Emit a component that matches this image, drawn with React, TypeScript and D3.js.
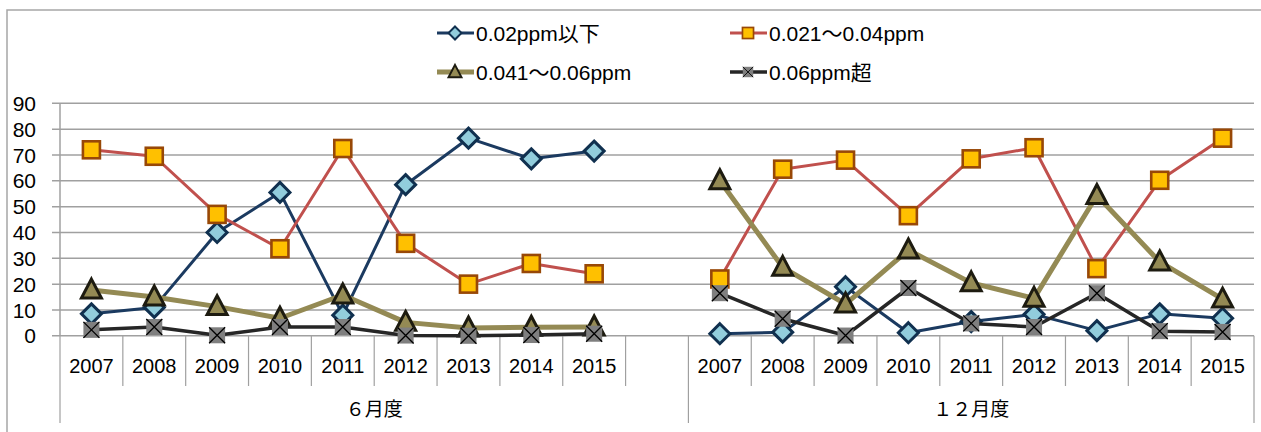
import React from "react";
import * as d3 from "d3";

const years = ["2007", "2008", "2009", "2010", "2011", "2012", "2013", "2014", "2015"];
const groups = ["６月度", "１２月度"];
const yTicks = [0, 10, 20, 30, 40, 50, 60, 70, 80, 90];
const seriesNames = ["0.02ppm以下", "0.021〜0.04ppm", "0.041〜0.06ppm", "0.06ppm超"];

// values per series: [6月度 (2007..2015), 12月度 (2007..2015)]
const s1June = [8.5, 11, 40, 55.5, 8, 58.5, 76.5, 68.5, 71.5];
const s1Dec = [0.8, 1.4, 19, 1.2, 5.5, 8.3, 2, 8.5, 6.8];
const s2June = [72, 69.5, 47, 33.7, 72.5, 35.8, 20, 28, 24];
const s2Dec = [22, 64.5, 68, 46.5, 68.5, 72.8, 26, 60.2, 76.5];
const s3June = [17.7, 15, 11.3, 6.8, 15.8, 5.2, 3, 3.3, 3.4];
const s3Dec = [60, 26.5, 12.3, 33.2, 20.5, 14.5, 54.3, 28.6, 14.2];
const s4June = [2.3, 3.4, 0.2, 3.4, 3.4, 0.1, 0, 0.3, 0.8];
const s4Dec = [16.5, 6.6, 0.1, 18.5, 4.8, 3.4, 16.5, 1.8, 1.5];

const seriesData = [
  [s1June, s1Dec],
  [s2June, s2Dec],
  [s3June, s3Dec],
  [s4June, s4Dec],
];

const FONT = "'Liberation Sans', 'Noto Sans CJK JP', sans-serif";
const CJK = "'Noto Sans CJK JP', sans-serif";

const styles = [
  { line: "#1B3A60", lw: 3, fill: "#92CDDC", stroke: "#10304F", marker: "diamond" },
  { line: "#C0504D", lw: 3, fill: "#FFC000", stroke: "#984807", marker: "square" },
  { line: "#948A54", lw: 5, fill: "#948A54", stroke: "#1D1B10", marker: "triangle" },
  { line: "#262626", lw: 3.5, fill: "#7F7F7F", stroke: "#111", marker: "xsq" },
];

function Marker({ kind, x, y, s, st }: any) {
  if (kind === "diamond") {
    const r = 10 * s;
    return (
      <path d={`M${x},${y - r}L${x + r},${y}L${x},${y + r}L${x - r},${y}Z`} fill={st.fill} stroke={st.stroke} strokeWidth={3 * s} strokeLinejoin="miter" />
    );
  }
  if (kind === "square") {
    const h = 8.5 * s;
    return <rect x={x - h} y={y - h} width={2 * h} height={2 * h} fill={st.fill} stroke={st.stroke} strokeWidth={2.6 * s} />;
  }
  if (kind === "triangle") {
    const w = 10 * s;
    const hTop = 11 * s;
    const hBot = 8 * s;
    return (
      <path d={`M${x},${y - hTop}L${x + w},${y + hBot}L${x - w},${y + hBot}Z`} fill={st.fill} stroke={st.stroke} strokeWidth={3 * s} strokeLinejoin="miter" />
    );
  }
  const h = 8 * s;
  return (
    <g>
      <rect x={x - h} y={y - h} width={2 * h} height={2 * h} fill={st.fill} />
      <path d={`M${x - h},${y - h}L${x + h},${y + h}M${x + h},${y - h}L${x - h},${y + h}`} stroke="#000" strokeWidth={1.3 * s} />
    </g>
  );
}

export default function App() {
  const W = 1261;
  const H = 432;
  const slots: string[] = [];
  groups.forEach((g, gi) => {
    years.forEach((y) => slots.push(`${g}-${y}`));
    if (gi === 0) slots.push(`${g}-blank`);
  });
  const x = d3.scaleBand<string>().domain(slots).range([60, 1254]).paddingInner(0).paddingOuter(0);
  const yS = d3.scaleLinear().domain([0, 90]).range([335.8, 103.3]);
  const bw = x.bandwidth();
  const cx = (g: string, yr: string) => (x(`${g}-${yr}`) as number) + bw / 2;
  const line = d3.line<[number, number]>().x((d) => d[0]).y((d) => d[1]);

  const axisY = yS(0);
  const boundaries = slots.map((s) => x(s) as number).concat([1254]);
  const groupStarts = [60, x(`${groups[1]}-2007`) as number, 1254];

  const legendItems = [
    { i: 0, lx: 437, ly: 33 },
    { i: 1, lx: 730, ly: 33 },
    { i: 2, lx: 437, ly: 72 },
    { i: 3, lx: 730, ly: 72 },
  ];

  return (
    <svg width={W} height={H} style={{ display: "block", position: "absolute", left: 0, top: 0 }} fontFamily={FONT}>
      <rect x={0} y={0} width={W} height={H} fill="#fff" />
      {/* outer frame */}
      <path d={`M7,${H}L7,10L${W},10`} fill="none" stroke="#A6A6A6" strokeWidth={1.5} />
      {/* gridlines */}
      {yTicks.map((t) => (
        <g key={t}>
          <line x1={52} x2={1254} y1={yS(t)} y2={yS(t)} stroke="#A0A0A0" strokeWidth={1.5} />
          <text x={36} y={yS(t)} dy="0.36em" textAnchor="end" fontSize={21} fill="#000">
            {t}
          </text>
        </g>
      ))}
      {/* y axis */}
      <line x1={60} x2={60} y1={103.3} y2={axisY} stroke="#A0A0A0" strokeWidth={1.5} />
      {/* category ticks */}
      {boundaries.map((b, i) => {
        const isGroup = groupStarts.some((g) => Math.abs(g - b) < 0.5);
        return <line key={i} x1={b} x2={b} y1={axisY} y2={isGroup ? 423 : 386} stroke="#A0A0A0" strokeWidth={1.2} />;
      })}
      {groups.map((g) =>
        years.map((yr) => (
          <text key={g + yr} x={cx(g, yr)} y={366} dy="0.36em" textAnchor="middle" fontSize={20} fill="#000">
            {yr}
          </text>
        ))
      )}
      {groups.map((g, gi) => (
        <text key={g} x={(groupStarts[gi] + groupStarts[gi + 1]) / 2} y={409} dy="0.36em" textAnchor="middle" fontSize={19} fill="#000" fontFamily={CJK}>
          {g}
        </text>
      ))}
      {/* series */}
      {seriesData.map((sd, si) => {
        const st = styles[si];
        return (
          <g key={si}>
            {groups.map((g, gi) => {
              const pts = years.map((yr, k) => [cx(g, yr), yS(sd[gi][k])] as [number, number]);
              return (
                <g key={g}>
                  <path d={line(pts) as string} fill="none" stroke={st.line} strokeWidth={st.lw} strokeLinejoin="round" />
                  {pts.map((p, k) => (
                    <Marker key={k} kind={st.marker} x={p[0]} y={p[1]} s={1} st={st} />
                  ))}
                </g>
              );
            })}
          </g>
        );
      })}
      {/* legend */}
      {legendItems.map(({ i, lx, ly }) => {
        const st = styles[i];
        return (
          <g key={i}>
            <line x1={lx} x2={lx + 37} y1={ly} y2={ly} stroke={st.line} strokeWidth={st.lw} />
            <Marker kind={st.marker} x={lx + 18} y={ly} s={0.65} st={st} />
            <text x={lx + 39} y={ly} dy="0.36em" fontSize={21} fill="#000">
              {seriesNames[i]}
            </text>
          </g>
        );
      })}
    </svg>
  );
}
